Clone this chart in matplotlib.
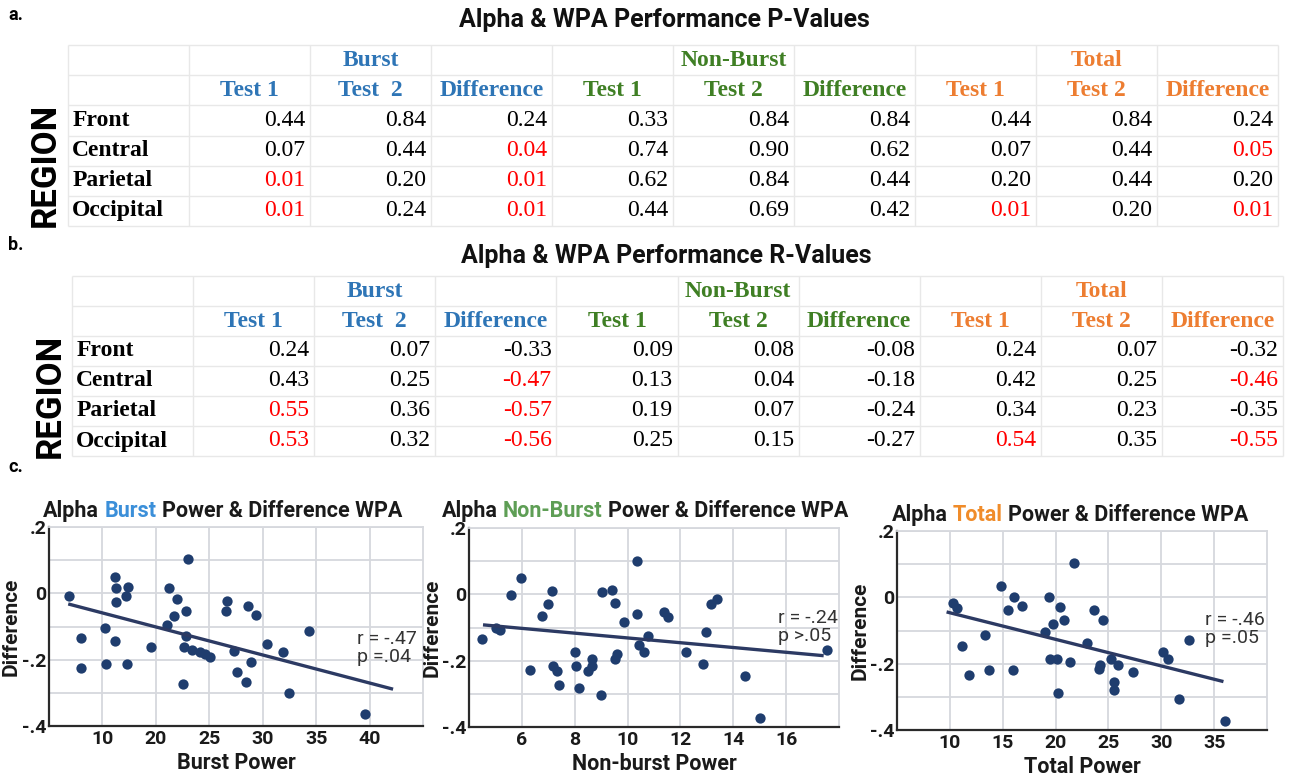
import numpy as np
import matplotlib
matplotlib.use("Agg")
import matplotlib.pyplot as plt
from matplotlib.text import Annotation
from matplotlib.ticker import FixedLocator

W, H = 1290, 776

# ---------------- table data ----------------
regions = ["Front", "Central", "Parietal", "Occipital"]
groups = ["Burst", "Non-Burst", "Total"]
col_labels = ["Test 1", "Test  2", "Difference",
              "Test 1", "Test 2", "Difference",
              "Test 1", "Test 2", "Difference"]

p_burst_t1 = [0.44, 0.07, 0.01, 0.01]
p_burst_t2 = [0.84, 0.44, 0.20, 0.24]
p_burst_diff = [0.24, 0.04, 0.01, 0.01]
p_nonburst_t1 = [0.33, 0.74, 0.62, 0.44]
p_nonburst_t2 = [0.84, 0.90, 0.84, 0.69]
p_nonburst_diff = [0.84, 0.62, 0.44, 0.42]
p_total_t1 = [0.44, 0.07, 0.20, 0.01]
p_total_t2 = [0.84, 0.44, 0.44, 0.20]
p_total_diff = [0.24, 0.05, 0.20, 0.01]

r_burst_t1 = [0.24, 0.43, 0.55, 0.53]
r_burst_t2 = [0.07, 0.25, 0.36, 0.32]
r_burst_diff = [-0.33, -0.47, -0.57, -0.56]
r_nonburst_t1 = [0.09, 0.13, 0.19, 0.25]
r_nonburst_t2 = [0.08, 0.04, 0.07, 0.15]
r_nonburst_diff = [-0.08, -0.18, -0.24, -0.27]
r_total_t1 = [0.24, 0.42, 0.34, 0.54]
r_total_t2 = [0.07, 0.25, 0.23, 0.35]
r_total_diff = [-0.32, -0.46, -0.35, -0.55]

# ---------------- scatter data ----------------
burst_x = [11.9, 13.0, 13.0, 15.2, 15.3, 16.2, 16.3, 16.3, 16.2, 17.2, 17.4, 17.3,
           19.5, 21.0, 21.2, 21.7, 22.0, 22.5, 22.6, 22.8, 22.8, 23.0, 23.4, 24.1,
           24.6, 25.1, 26.7, 26.6, 27.3, 27.6, 28.4, 28.6, 28.9, 29.4, 30.4, 31.9,
           32.5, 34.3, 39.6]
burst_y = [-0.007, -0.134, -0.224, -0.104, -0.213, 0.049, 0.017, -0.025, -0.144,
           -0.007, 0.018, -0.213, -0.163, -0.095, 0.015, -0.067, -0.016, -0.272,
           -0.162, -0.053, -0.128, 0.103, -0.170, -0.178, -0.182, -0.192, -0.022,
           -0.052, -0.173, -0.238, -0.266, -0.037, -0.208, -0.065, -0.152, -0.177,
           -0.302, -0.113, -0.365]
burst_fit_x = [11.8, 42.2]
burst_fit_y = [-0.032, -0.289]

nonburst_x = [4.49, 5.02, 5.18, 5.60, 5.96, 6.30, 6.77, 6.99, 7.14, 7.18, 7.32, 7.41,
              8.00, 8.04, 8.18, 8.50, 8.65, 8.65, 8.99, 9.04, 9.42, 9.52, 9.52, 9.60,
              9.87, 10.34, 10.34, 10.42, 10.63, 10.77, 11.37, 11.53, 12.20, 12.86,
              12.96, 13.14, 13.38, 14.43, 15.01, 17.56]
nonburst_y = [-0.136, -0.102, -0.109, -0.002, 0.048, -0.228, -0.064, -0.030, 0.011,
              -0.216, -0.231, -0.274, -0.173, -0.215, -0.282, -0.232, -0.196, -0.215,
              -0.305, 0.008, 0.012, -0.026, -0.196, -0.181, -0.084, 0.102, -0.060,
              -0.154, -0.174, -0.126, -0.054, -0.067, -0.174, -0.211, -0.113, -0.030,
              -0.014, -0.247, -0.372, -0.167]
nonburst_fit_x = [4.53, 17.42]
nonburst_fit_y = [-0.092, -0.185]

total_x = [10.25, 10.66, 11.19, 11.81, 13.31, 13.66, 14.84, 15.53, 15.94, 16.06,
           16.81, 19.00, 19.41, 19.44, 19.78, 20.13, 20.22, 20.41, 20.75, 21.38,
           21.78, 22.97, 23.63, 24.09, 24.19, 24.47, 25.25, 25.53, 25.53, 25.94,
           27.31, 30.16, 30.59, 31.66, 32.66, 36.00]
total_y = [-0.016, -0.033, -0.146, -0.234, -0.115, -0.220, 0.034, -0.039, -0.220,
           0.000, -0.025, -0.105, 0.000, -0.186, -0.080, -0.185, -0.287, -0.030,
           -0.067, -0.195, 0.104, -0.137, -0.039, -0.215, -0.204, -0.067, -0.185,
           -0.255, -0.279, -0.204, -0.224, -0.164, -0.186, -0.308, -0.128, -0.373]
total_fit_x = [9.69, 35.88]
total_fit_y = [-0.044, -0.254]

burst_xticks = [15, 20, 25, 30, 35, 40]
burst_xticklabels = ["10", "20", "25", "30", "35", "40"]
nonburst_xticks = [6, 8, 10, 12, 14, 16]
nonburst_xticklabels = ["6", "8", "10", "12", "14", "16"]
total_xticks = [10, 15, 20, 25, 30, 35]
total_xticklabels = ["10", "15", "20", "25", "30", "35"]
yticks = [-0.4, -0.2, 0.0, 0.2]
yticklabels = ["-.4", "-.2", "0", ".2"]
yminor = [-0.3, -0.1, 0.1]

burst_stats = "r = -.47\np =.04"
nonburst_stats = "r = -.24\np >.05"
total_stats = "r = -.46\np =.05"

# ---------------- styles ----------------
BLUE, GREEN, ORANGE = "#2E75B6", "#3F7F24", "#ED7D31"
T_BLUE, T_GREEN, T_ORANGE = "#3B8FD9", "#5E9E55", "#F08C2A"
RED = "#FF0000"
DOT = "#1F3D6E"
LINE = "#2C3A63"
GRID = "#D6D8DD"
SERIF = "Liberation Serif"
SANS = "Roboto"

fig = plt.figure(figsize=(W / 100, H / 100), dpi=100)
fig.patch.set_facecolor("white")


def fpos(x, y):
    return x / W, 1 - y / H


def add_px_axes(l, t, r, b):
    return fig.add_axes([l / W, 1 - b / H, (r - l) / W, (b - t) / H])


def draw_table(box, pvals, shown, title, title_xy, region_xy):
    l, t, r, b = box
    ax = add_px_axes(l, t, r, b)
    ax.set_xlim(0, 10)
    ax.set_ylim(6, 0)
    ax.axis("off")
    ax.hlines(range(7), 0, 10, color="#E8E8E8", lw=1.0, clip_on=False)
    ax.vlines(range(11), 0, 6, color="#E8E8E8", lw=1.0, clip_on=False)
    gcols = [BLUE, GREEN, ORANGE]
    for g, name in enumerate(groups):
        ax.text(2 + 3 * g + 0.5, 0.5, name, ha="center", va="center",
                family=SERIF, weight="bold", fontsize=17, color=gcols[g])
        for k in range(3):
            c = 1 + 3 * g + k
            ax.text(c + 0.5, 1.5, col_labels[c - 1], ha="center", va="center",
                    family=SERIF, weight="bold", fontsize=17, color=gcols[g])
    for i, reg in enumerate(regions):
        ax.text(0.035, 2.5 + i, reg, ha="left", va="center", family=SERIF,
                weight="bold", fontsize=17, color="black")
        for c in range(9):
            v = shown[c][i]
            col = RED if pvals[c][i] <= 0.05 else "black"
            ax.text(c + 2 - 0.04, 2.5 + i, f"{v:.2f}", ha="right", va="center",
                    family=SERIF, fontsize=17, color=col)
    fig.text(*fpos(*title_xy), title, ha="center", va="center", family=SANS,
             weight="bold", fontsize=18, color="#111111")
    fig.text(*fpos(*region_xy), "REGION", ha="center", va="center", rotation=90,
             family=SANS, weight="bold", fontsize=25, color="black")


p_cols = [p_burst_t1, p_burst_t2, p_burst_diff, p_nonburst_t1, p_nonburst_t2,
          p_nonburst_diff, p_total_t1, p_total_t2, p_total_diff]
r_cols = [r_burst_t1, r_burst_t2, r_burst_diff, r_nonburst_t1, r_nonburst_t2,
          r_nonburst_diff, r_total_t1, r_total_t2, r_total_diff]

draw_table((68, 45, 1278, 226), p_cols, p_cols,
           "Alpha & WPA Performance P-Values", (664, 20), (45, 165))
draw_table((72, 276, 1283, 456), p_cols, r_cols,
           "Alpha & WPA Performance R-Values", (666, 256), (50, 396))

for lab, y in [("a.", 15), ("b.", 245), ("c.", 467)]:
    fig.text(*fpos(8, y), lab, ha="left", va="center", family=SANS,
             weight="bold", fontsize=13, color="black")


def chain_title(parts, left, base):
    size = 15.5
    first = fig.text(*fpos(left, base), parts[0][0], ha="left", va="baseline",
                     family=SANS, weight="bold", fontsize=size, color=parts[0][1])
    prev = first
    for txt, col in parts[1:]:
        prev = fig.add_artist(Annotation(
            txt, xy=(1, 0), xycoords=prev, xytext=(3.9, 0),
            textcoords="offset points", ha="left", va="bottom",
            family=SANS, weight="bold", fontsize=size, color=col))


def scatter_panel(box, xs, ys, fx, fy, xlim, xt, xtl, xlabel, stats, stats_xy):
    ax = add_px_axes(*box)
    ax.set_xlim(*xlim)
    ax.set_ylim(-0.4, 0.2)
    ax.xaxis.set_major_locator(FixedLocator(xt))
    ax.set_xticklabels(xtl)
    ax.set_yticks(yticks)
    ax.set_yticklabels(yticklabels)
    ax.yaxis.set_minor_locator(FixedLocator(yminor))
    ax.grid(True, which="both", color=GRID, lw=1.3)
    ax.set_axisbelow(True)
    ax.tick_params(which="both", length=0)
    ax.tick_params(axis="x", pad=3)
    ax.tick_params(axis="y", pad=2)
    for t in ax.get_xticklabels() + ax.get_yticklabels():
        t.set_fontfamily(SANS)
        t.set_fontweight("bold")
        t.set_fontsize(14)
        t.set_color("#1A1A1A")
    for s in ["top", "right"]:
        ax.spines[s].set_color(GRID)
        ax.spines[s].set_linewidth(1.3)
    for s in ["left", "bottom"]:
        ax.spines[s].set_color("#2A2A2A")
        ax.spines[s].set_linewidth(1.6)
    ax.scatter(xs, ys, s=55, color=DOT, zorder=3, linewidths=0)
    ax.plot(fx, fy, color=LINE, lw=2.4, zorder=4, solid_capstyle="butt")
    ax.set_xlabel(xlabel, family=SANS, weight="bold", fontsize=15.5, color="#1A1A1A")
    ax.set_ylabel("Difference", family=SANS, weight="bold", fontsize=15, color="#1A1A1A")
    ax.xaxis.set_label_coords(0.5, -0.185)
    ax.xaxis.label.set_va("center")
    ax.yaxis.set_label_coords(-0.1, 0.5)
    ax.yaxis.label.set_va("center")
    ax.text(stats_xy[0], stats_xy[1], stats, ha="left", va="center", family=SANS,
            fontsize=14, color="#333333", linespacing=1.0, zorder=5)
    return ax


scatter_panel((49, 527, 423, 726), burst_x, burst_y, burst_fit_x, burst_fit_y,
              (10, 45), burst_xticks, burst_xticklabels, "Burst Power",
              burst_stats, (38.8, -0.164))
chain_title([("Alpha", "#1A1A1A"), ("Burst", T_BLUE),
             ("Power & Difference WPA", "#1A1A1A")], 43, 516.7)

scatter_panel((469, 528, 839, 727), nonburst_x, nonburst_y, nonburst_fit_x,
              nonburst_fit_y, (4, 18), nonburst_xticks, nonburst_xticklabels,
              "Non-burst Power", nonburst_stats, (15.7, -0.099))
chain_title([("Alpha", "#1A1A1A"), ("Non-Burst", T_GREEN),
             ("Power & Difference WPA", "#1A1A1A")], 441.7, 516.7)

scatter_panel((897, 531, 1267, 730), total_x, total_y, total_fit_x, total_fit_y,
              (5, 40), total_xticks, total_xticklabels, "Total Power",
              total_stats, (34.1, -0.095))
chain_title([("Alpha", "#1A1A1A"), ("Total", T_ORANGE),
             ("Power & Difference WPA", "#1A1A1A")], 891.7, 520.7)

fig.savefig("out.png", dpi=100, facecolor="white")
